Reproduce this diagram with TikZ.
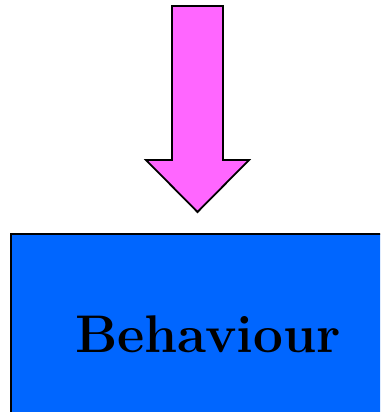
\documentclass[tikz,border=0pt]{standalone}
\usepackage{tikz}
\usetikzlibrary{positioning}
\definecolor{arrowpink}{RGB}{255,102,255}
\definecolor{boxblue}{RGB}{0,102,255}

\begin{document}
\begin{tikzpicture}[x=1pt, y=-1pt, line width=1.8pt,
    blockbox/.style={draw=black, fill=boxblue, minimum width=394pt, minimum height=200pt,
        inner sep=0pt, font=\fontsize{53}{64}\selectfont\bfseries}]
    \useasboundingbox (0,0) rectangle (380,412);
    \clip (0,0) rectangle (380,412);

    % Downward arrow
    \filldraw[fill=arrowpink, line join=miter]
        (172,6) -- (223,6) -- (223,160) -- (249,160) -- (197.5,212)
        -- (146,160) -- (172,160) -- cycle;

    % Behaviour block
    \node[blockbox, anchor=north west] (behaviour) at (10,233) {Behaviour};
\end{tikzpicture}
\end{document}
